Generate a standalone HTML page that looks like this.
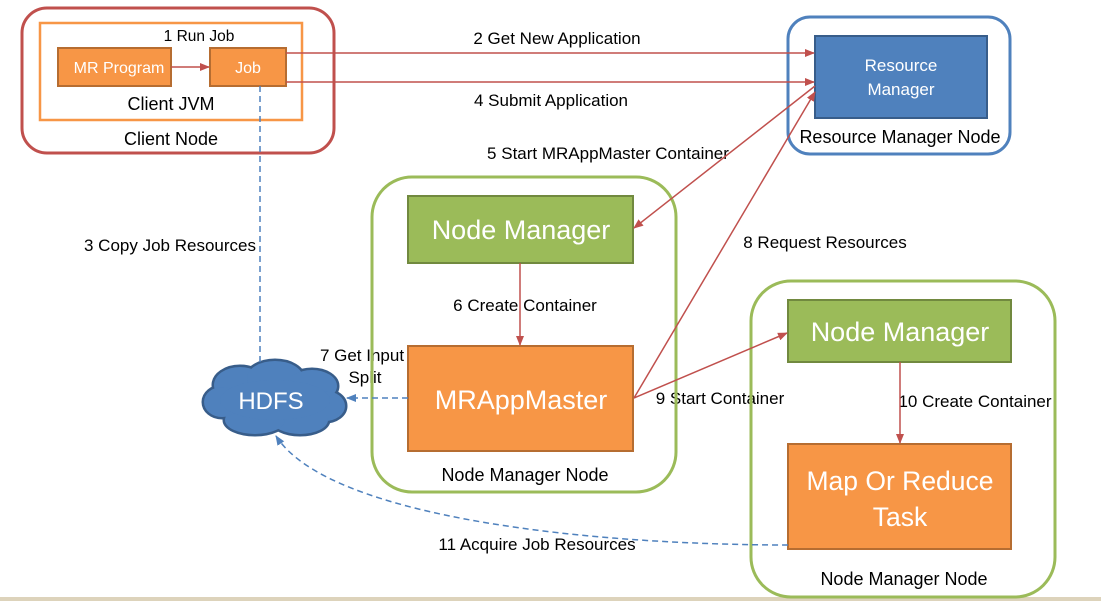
<!DOCTYPE html>
<html><head><meta charset="utf-8"><style>
html,body{margin:0;padding:0;background:#fff;}
svg{display:block;font-family:"Liberation Sans",sans-serif;}
</style></head><body>
<svg width="1101" height="601" viewBox="0 0 1101 601" xmlns="http://www.w3.org/2000/svg">
<defs>
<marker id="ar" markerWidth="10" markerHeight="10" refX="9" refY="5" orient="auto" markerUnits="userSpaceOnUse"><path d="M0,1 L10,5 L0,9 z" fill="#c0504d"/></marker>
<marker id="ab" markerWidth="10" markerHeight="10" refX="9" refY="5" orient="auto" markerUnits="userSpaceOnUse"><path d="M0,1 L10,5 L0,9 z" fill="#4f81bd"/></marker>
</defs>
<rect x="0" y="597" width="1101" height="4" fill="#ddd3bb"/>
<!-- Client node -->
<rect x="22" y="8" width="312" height="145" rx="25" fill="none" stroke="#c0504d" stroke-width="3"/>
<rect x="40" y="23" width="262" height="97" fill="none" stroke="#f79646" stroke-width="2.5"/>
<rect x="58" y="48" width="113" height="38" fill="#f79646" stroke="#b66d31" stroke-width="2"/>
<rect x="210" y="48" width="76" height="38" fill="#f79646" stroke="#b66d31" stroke-width="2"/>
<text x="119" y="73" font-size="16" fill="#fff" text-anchor="middle">MR Program</text>
<text x="248" y="73" font-size="16" fill="#fff" text-anchor="middle">Job</text>
<line x1="171" y1="67" x2="209" y2="67" stroke="#c0504d" stroke-width="1.5" marker-end="url(#ar)"/>
<text x="199" y="41" font-size="15.5" text-anchor="middle">1 Run Job</text>
<g font-size="18" fill="#000" text-anchor="middle">
<text x="171" y="110">Client JVM</text>
<text x="171" y="145">Client Node</text>
</g>
<!-- RM -->
<rect x="788" y="17" width="222" height="137" rx="22" fill="none" stroke="#4f81bd" stroke-width="3"/>
<rect x="815" y="36" width="172" height="82" fill="#4f81bd" stroke="#385d8a" stroke-width="2"/>
<text x="901" y="71" font-size="17" fill="#fff" text-anchor="middle">Resource</text>
<text x="901" y="95" font-size="17" fill="#fff" text-anchor="middle">Manager</text>
<text x="900" y="143" font-size="18" text-anchor="middle">Resource Manager Node</text>
<line x1="286" y1="53" x2="814" y2="53" stroke="#c0504d" stroke-width="1.5" marker-end="url(#ar)"/>
<line x1="286" y1="82" x2="814" y2="82" stroke="#c0504d" stroke-width="1.5" marker-end="url(#ar)"/>
<g font-size="17" text-anchor="middle">
<text x="557" y="44">2 Get New Application</text>
<text x="551" y="106">4 Submit Application</text>
<text x="608" y="159">5 Start MRAppMaster Container</text>
<text x="170" y="251">3 Copy Job Resources</text>
<text x="825" y="248">8 Request Resources</text>
<text x="525" y="311">6 Create Container</text>
<text x="362" y="361">7 Get Input</text>
<text x="365" y="383">Split</text>
<text x="720" y="404">9 Start Container</text>
<text x="975" y="407">10 Create Container</text>
<text x="537" y="550">11 Acquire Job Resources</text>
</g>
<g font-size="18" text-anchor="middle">
<text x="525" y="481">Node Manager Node</text>
<text x="904" y="585">Node Manager Node</text>
</g>
<!-- NM node 1 -->
<rect x="372" y="177" width="304" height="315" rx="40" fill="none" stroke="#9bbb59" stroke-width="3"/>
<rect x="408" y="196" width="225" height="67" fill="#9bbb59" stroke="#71893f" stroke-width="2"/>
<text x="521" y="239" font-size="27" fill="#fff" text-anchor="middle">Node Manager</text>
<rect x="408" y="346" width="225" height="105" fill="#f79646" stroke="#b66d31" stroke-width="2"/>
<text x="521" y="409" font-size="27" fill="#fff" text-anchor="middle">MRAppMaster</text>
<line x1="520" y1="263" x2="520" y2="345" stroke="#c0504d" stroke-width="1.5" marker-end="url(#ar)"/>
<!-- NM node 2 -->
<rect x="751" y="281" width="304" height="316" rx="40" fill="none" stroke="#9bbb59" stroke-width="3"/>
<rect x="788" y="300" width="223" height="62" fill="#9bbb59" stroke="#71893f" stroke-width="2"/>
<text x="900" y="341" font-size="27" fill="#fff" text-anchor="middle">Node Manager</text>
<rect x="788" y="444" width="223" height="105" fill="#f79646" stroke="#b66d31" stroke-width="2"/>
<text x="900" y="490" font-size="26.5" fill="#fff" text-anchor="middle">Map Or Reduce</text>
<text x="900" y="526" font-size="26.5" fill="#fff" text-anchor="middle">Task</text>
<line x1="900" y1="362" x2="900" y2="443" stroke="#c0504d" stroke-width="1.5" marker-end="url(#ar)"/>
<!-- red diagonal arrows -->
<line x1="815" y1="86" x2="634" y2="228" stroke="#c0504d" stroke-width="1.5" marker-end="url(#ar)"/>
<line x1="634" y1="398" x2="815" y2="92" stroke="#c0504d" stroke-width="1.5" marker-end="url(#ar)"/>
<line x1="634" y1="398" x2="787" y2="333" stroke="#c0504d" stroke-width="1.5" marker-end="url(#ar)"/>
<!-- HDFS cloud -->
<g stroke="#385d8a" stroke-width="5" fill="#4f81bd">
<ellipse cx="240" cy="385" rx="26" ry="18"/><ellipse cx="275" cy="378" rx="28" ry="17"/><ellipse cx="312" cy="386" rx="25" ry="16"/>
<ellipse cx="325" cy="406" rx="20" ry="15"/><ellipse cx="300" cy="420" rx="28" ry="14"/><ellipse cx="255" cy="420" rx="30" ry="14"/>
<ellipse cx="222" cy="402" rx="18" ry="15"/>
</g>
<g fill="#4f81bd">
<ellipse cx="240" cy="385" rx="26" ry="18"/><ellipse cx="275" cy="378" rx="28" ry="17"/><ellipse cx="312" cy="386" rx="25" ry="16"/>
<ellipse cx="325" cy="406" rx="20" ry="15"/><ellipse cx="300" cy="420" rx="28" ry="14"/><ellipse cx="255" cy="420" rx="30" ry="14"/>
<ellipse cx="222" cy="402" rx="18" ry="15"/><ellipse cx="275" cy="400" rx="55" ry="20"/>
</g>
<text x="271" y="409" font-size="24" fill="#fff" text-anchor="middle">HDFS</text>
<!-- blue dashed -->
<line x1="260" y1="86" x2="260" y2="366" stroke="#4f81bd" stroke-width="1.5" stroke-dasharray="6,4"/>
<line x1="408" y1="398" x2="347" y2="398" stroke="#4f81bd" stroke-width="1.5" stroke-dasharray="6,4" marker-end="url(#ab)"/>
<path d="M788,545 C600,545 330,520 276,436" fill="none" stroke="#4f81bd" stroke-width="1.5" stroke-dasharray="6,4" marker-end="url(#ab)"/>
</svg>
</body></html>
